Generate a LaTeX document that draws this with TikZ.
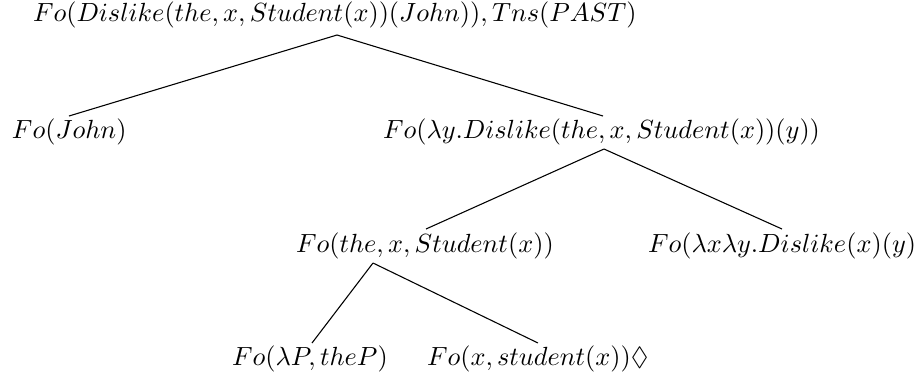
\documentclass[tikz,border=0pt]{standalone}
\usepackage{amssymb}
\begin{document}
\begin{tikzpicture}[x=0.41667pt,y=-0.41667pt,
  lbl/.style={anchor=base west,inner sep=0pt,outer sep=0pt,font=\fontsize{11}{13}\selectfont},
  edge/.style={line width=0.45pt}]
\path[use as bounding box] (0,0) rectangle (921,377);
\node[lbl] (root) at (33,21) {$Fo(Dislike(the,x,Student(x))(John)),Tns(PAST)$};
\node[lbl] (john) at (12,138) {$Fo(John)$};
\node[lbl] (pred) at (383,138) {$Fo(\lambda y.Dislike(the,x,Student(x))(y))$};
\node[lbl] (obj) at (296,252) {$Fo(the,x,Student(x))$};
\node[lbl] (verb) at (648,252) {$Fo(\lambda x\lambda y.Dislike(x)(y)$};
\node[lbl] (det) at (232,365) {$Fo(\lambda P,theP)$};
\node[lbl] (noun) at (427,365) {$Fo(x,student(x))\Diamond$};
\coordinate (rootb) at (337,35);
\coordinate (johnt) at (69,116);
\coordinate (predt) at (603,116);
\coordinate (predb) at (604,149);
\coordinate (objt) at (426,229);
\coordinate (verbt) at (782,229);
\coordinate (objb) at (373,263);
\coordinate (dett) at (312,343);
\coordinate (nount) at (538,343);
\draw[edge] (rootb) -- (johnt);
\draw[edge] (rootb) -- (predt);
\draw[edge] (predb) -- (objt);
\draw[edge] (predb) -- (verbt);
\draw[edge] (objb) -- (dett);
\draw[edge] (objb) -- (nount);
\end{tikzpicture}
\end{document}
